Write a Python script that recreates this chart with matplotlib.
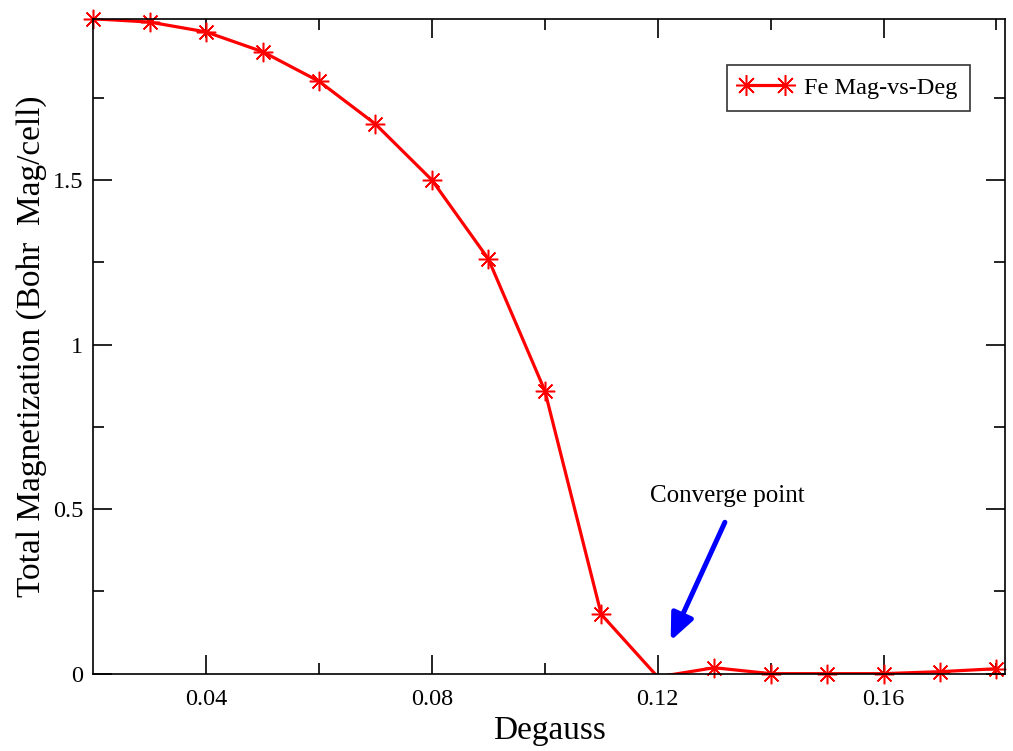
import matplotlib.pyplot as plt
import numpy as np

plt.rcParams['font.family'] = ['Liberation Serif', 'DejaVu Serif']

degauss = [0.02, 0.03, 0.04, 0.05, 0.06, 0.07, 0.08, 0.09, 0.10, 0.11,
           0.12, 0.13, 0.14, 0.15, 0.16, 0.17, 0.18]
magnet = [1.99, 1.98, 1.95, 1.89, 1.80, 1.67, 1.50, 1.26, 0.86, 0.18,
          -0.01, 0.018, 0.0, 0.0, 0.0, 0.006, 0.015]
xticks = [0.04, 0.08, 0.12, 0.16]
yticks = [0, 0.5, 1, 1.5]
ytick_labels = ["0", "0.5", "1", "1.5"]

fig = plt.figure(figsize=(10.13, 7.51), dpi=100)
ax = fig.add_axes([0.092, 0.103, 0.9, 0.872])

x = np.array(degauss)
y = np.array(magnet)
star = (8, 2, 0)

# line is clipped to the frame, markers are drawn like xmgrace (not clipped,
# but points outside the y range are skipped)
ax.plot(x, y, color='red', lw=2.3, solid_joinstyle='miter')
vis = y >= -0.005
ax.plot(x[vis], y[vis], ls='none', marker=star, ms=14, mec='red', mew=1.1,
        color='red', clip_on=False)
ax.plot([], [], color='red', lw=2.3, marker=star, ms=15, mew=1.1,
        label='Fe Mag-vs-Deg')

ax.set_xlim(0.02, 0.1815)
ax.set_ylim(0, 1.99)
ax.set_xticks(xticks)
ax.set_xticklabels([f"{t:.2f}" for t in xticks])
ax.set_xticks([0.06, 0.10, 0.14, 0.18], minor=True)
ax.set_yticks(yticks)
ax.set_yticklabels(ytick_labels)
ax.set_yticks([0.25, 0.75, 1.25, 1.75], minor=True)
ax.tick_params(which='both', direction='in', top=True, right=True,
               labelsize=17.5, width=1.2)
ax.tick_params(axis='x', pad=11)
ax.tick_params(axis='y', pad=7)
ax.tick_params(which='major', length=14)
ax.tick_params(which='minor', length=8)
for s in ax.spines.values():
    s.set_linewidth(1.2)

ax.set_xlabel('Degauss', fontsize=24, labelpad=4)
ax.set_ylabel('Total Magnetization (Bohr  Mag/cell)', fontsize=24, labelpad=4)

leg = ax.legend(loc='upper right', bbox_to_anchor=(0.9616, 0.93), fontsize=17.5,
                frameon=True, fancybox=False, edgecolor='black', numpoints=2,
                handlelength=2.2, borderpad=0.5, borderaxespad=0,
                handletextpad=0.5)
leg.get_frame().set_linewidth(1.2)

ax.text(0.1186, 0.54, 'Converge point', fontsize=18, va='center')
ax.annotate('', xy=(0.1223, 0.10), xytext=(0.1319, 0.46),
            arrowprops=dict(arrowstyle='-|>,head_length=1.6,head_width=0.7',
                            color='blue', lw=3.6, shrinkA=0, shrinkB=0))

fig.savefig('out.png', dpi=100)
